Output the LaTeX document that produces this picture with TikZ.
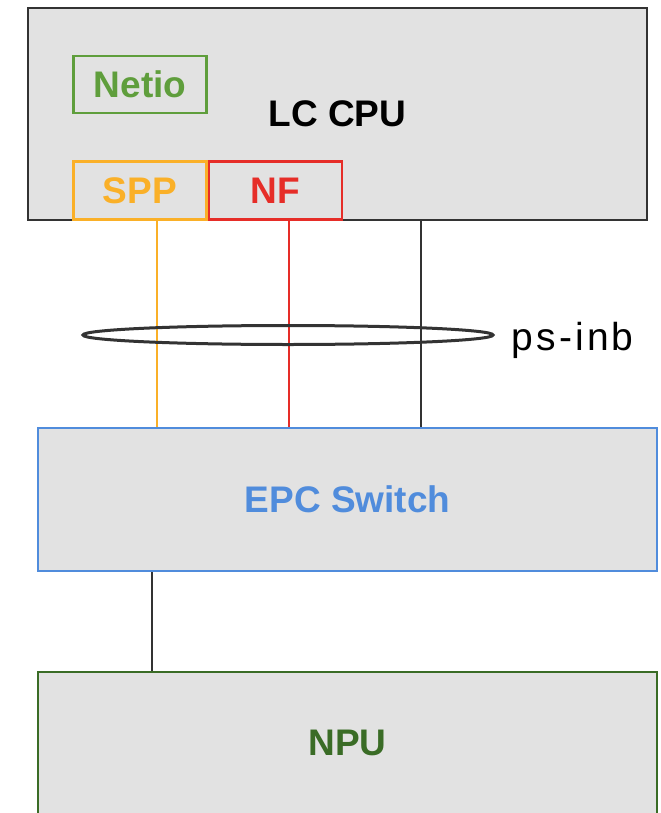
\documentclass[tikz,border=0pt]{standalone}
\usepackage{fontspec}
\setmainfont{Liberation Sans}
\usetikzlibrary{shapes.geometric}
\definecolor{boxfill}{RGB}{226,226,226}
\definecolor{cpuedge}{RGB}{51,51,51}
\definecolor{netgrn}{RGB}{95,158,60}
\definecolor{sppor}{RGB}{250,176,40}
\definecolor{nfred}{RGB}{230,45,40}
\definecolor{swblu}{RGB}{80,140,220}
\definecolor{npugrn}{RGB}{58,108,38}
\tikzset{
  blk/.style={rectangle, fill=boxfill, line width=1.2pt, inner sep=0pt,
              minimum width=309.5pt, font=\fontsize{18.5}{21}\selectfont\bfseries},
  % kleine Module im LC CPU
  sub/.style={rectangle, line width=1.1pt, inner sep=0pt, minimum width=66.5pt,
              minimum height=29pt, font=\fontsize{18.5}{21}\selectfont\bfseries},
  ln/.style={line width=1pt},
  bund/.style={ellipse, draw=cpuedge, line width=1.5pt, inner sep=0pt,
               minimum width=205pt, minimum height=9.5pt}
}
\begin{document}
\begin{tikzpicture}[x=0.5pt, y=-0.5pt]
  \useasboundingbox (0,0) rectangle (660,813);

  \node[blk, draw=cpuedge, minimum height=106pt] (cpu) at (337.5,114) {LC CPU};
  \node[sub, draw=netgrn, text=netgrn, minimum height=28.5pt] (netio) at (140,84.5) {Netio};
  \node[sub, draw=sppor, text=sppor] (spp) at (140,190.5) {SPP};
  \node[sub, draw=nfred, text=nfred] (nf) at (275.5,190.5) {NF};

  \node[blk, draw=swblu, text=swblu, line width=1pt, minimum height=71.5pt] (sw) at (347.5,499.5) {EPC Switch};
  \node[blk, draw=npugrn, text=npugrn, minimum height=71pt] (npu) at (347.5,743) {NPU};

  \coordinate (xs) at (157,0);
  \coordinate (xn) at (289,0);
  \coordinate (xc) at (421,0);
  \coordinate (xd) at (152,0);

  \draw[ln, sppor]   (spp.south -| xs) -- (sw.north -| xs);
  \draw[ln, nfred]   (nf.south -| xn)  -- (sw.north -| xn);
  \draw[ln, cpuedge] (cpu.south -| xc) -- (sw.north -| xc);
  \draw[ln, cpuedge, line width=1.2pt] (sw.south -| xd) -- (npu.north -| xd);

  \node[bund] (inb) at (288,335) {};
  \node[anchor=west, inner sep=0pt, xshift=8.5pt, yshift=-2.5pt,
        font=\fontsize{19.5}{22}\selectfont\addfontfeature{LetterSpace=8}] (inblbl) at (inb.east) {ps-inb};
\end{tikzpicture}
\end{document}
